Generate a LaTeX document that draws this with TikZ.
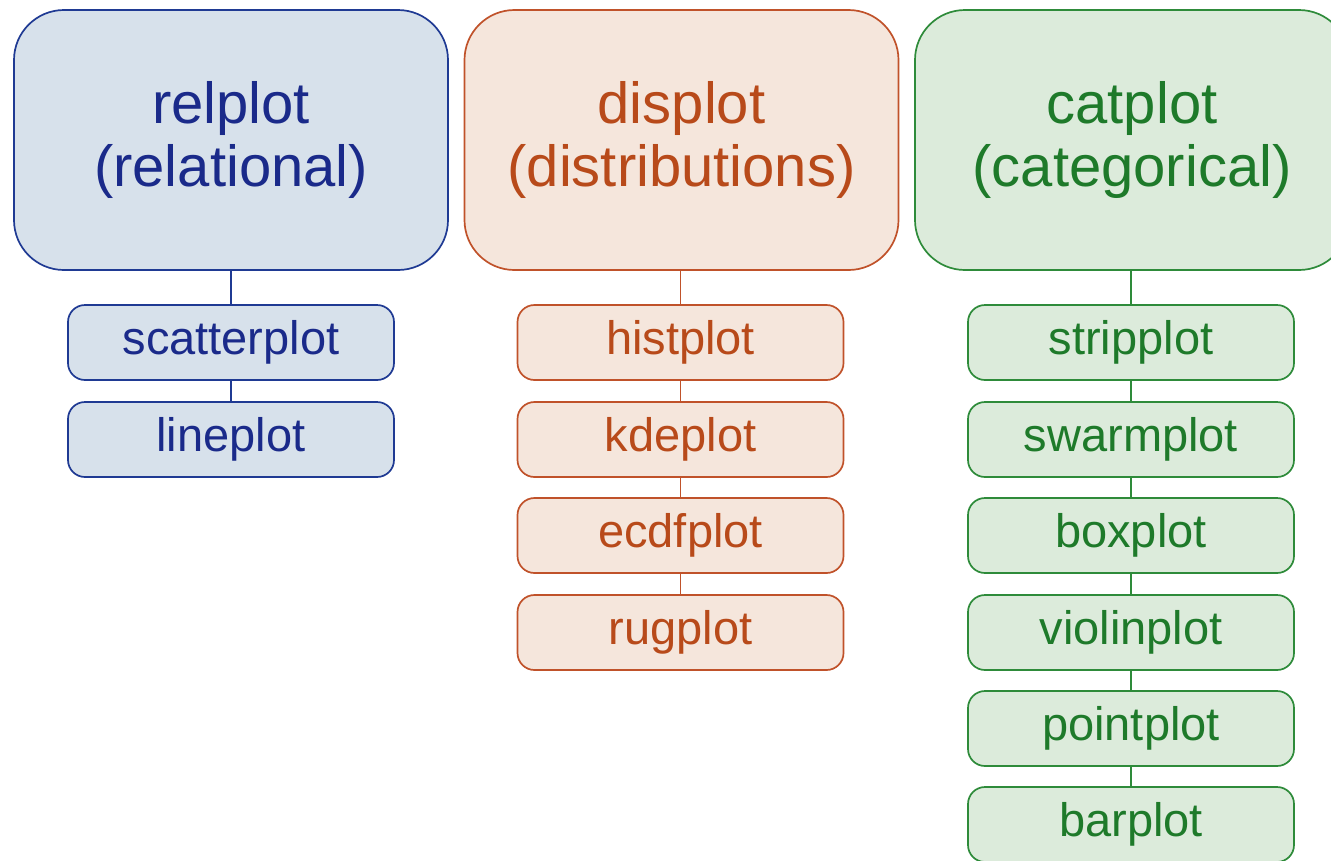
\documentclass[tikz,border=0pt]{standalone}
\usepackage{fontspec}
\setmainfont{Liberation Sans}
\definecolor{bstroke}{HTML}{1F3A93}
\definecolor{bfill}{HTML}{D7E1EB}
\definecolor{btext}{HTML}{1A2A8A}
\definecolor{ostroke}{HTML}{C0522A}
\definecolor{ofill}{HTML}{F5E6DC}
\definecolor{otext}{HTML}{B84A1A}
\definecolor{gstroke}{HTML}{2E8B3A}
\definecolor{gfill}{HTML}{DCEBDB}
\definecolor{gtext}{HTML}{1E7A2A}
\begin{document}
\begin{tikzpicture}[x=1pt,y=-1pt,
  bigbox/.style={draw,line width=1.7pt,rounded corners=50pt,minimum width=434pt,minimum height=260pt,inner sep=0pt,align=center,font=\fontsize{58}{63}\selectfont},
  smallbox/.style={draw,line width=1.7pt,rounded corners=17pt,minimum width=326pt,minimum height=75pt,inner sep=0pt,font=\fontsize{47}{50}\selectfont},
  blue/.style={draw=bstroke,fill=bfill,text=btext},
  orange/.style={draw=ostroke,fill=ofill,text=otext},
  green/.style={draw=gstroke,fill=gfill,text=gtext},
  link/.style={line width=1.7pt}]
\useasboundingbox (0,0) rectangle (1331,860);
\clip (0,0) rectangle (1331,860);
\node[bigbox,blue] (rel) at (231,140) {relplot\\(relational)};
\node[bigbox,orange] (dis) at (681.5,140) {displot\\(distributions)};
\node[bigbox,green] (cat) at (1132,140) {catplot\\(categorical)};
% relplot column
\node[smallbox,blue] (scatter) at (231,342.5) {scatterplot};
\node[smallbox,blue] (line) at (231,439.5) {lineplot};
% displot column
\node[smallbox,orange] (hist) at (680.5,342.5) {histplot};
\node[smallbox,orange] (kde) at (680.5,439.5) {kdeplot};
\node[smallbox,orange] (ecdf) at (680.5,535.5) {ecdfplot};
\node[smallbox,orange] (rug) at (680.5,632.5) {rugplot};
% catplot column
\node[smallbox,green] (strip) at (1131,342.5) {stripplot};
\node[smallbox,green] (swarm) at (1131,439.5) {swarmplot};
\node[smallbox,green] (box) at (1131,535.5) {boxplot};
\node[smallbox,green] (violin) at (1131,632.5) {violinplot};
\node[smallbox,green] (point) at (1131,728.5) {pointplot};
\node[smallbox,green] (bar) at (1131,824.5) {barplot};
% connectors
\draw[link,bstroke] (rel.south -| scatter.north) -- (scatter.north);
\draw[link,bstroke] (scatter) -- (line);
\draw[link,ostroke] (dis.south -| hist.north) -- (hist.north);
\draw[link,ostroke] (hist) -- (kde);
\draw[link,ostroke] (kde) -- (ecdf);
\draw[link,ostroke] (ecdf) -- (rug);
\draw[link,gstroke] (cat.south -| strip.north) -- (strip.north);
\draw[link,gstroke] (strip) -- (swarm);
\draw[link,gstroke] (swarm) -- (box);
\draw[link,gstroke] (box) -- (violin);
\draw[link,gstroke] (violin) -- (point);
\draw[link,gstroke] (point) -- (bar);
\end{tikzpicture}
\end{document}
